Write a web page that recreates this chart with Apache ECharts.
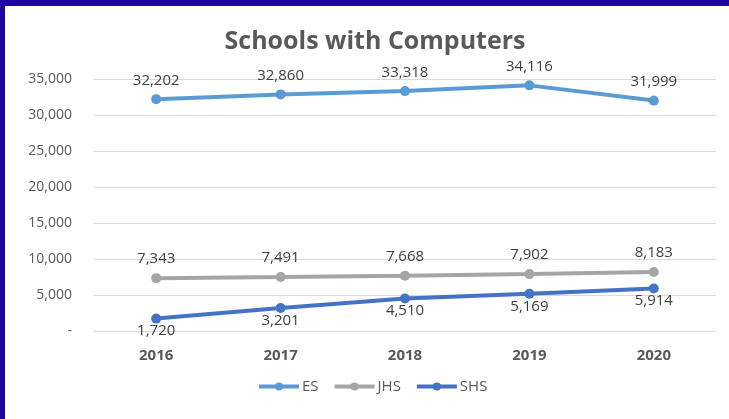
<!DOCTYPE html>
<html>
<head>
<meta charset="utf-8">
<script src="https://cdn.jsdelivr.net/npm/echarts@6/dist/echarts.min.js"></script>
<style>
html,body{margin:0;padding:0;background:#fff;}
#c{position:absolute;left:0;top:0;width:729px;height:419px;}
.bt{position:absolute;left:0;top:0;width:729px;height:6px;background:#1E04A0;}
.bl{position:absolute;left:0;top:0;width:5px;height:419px;background:#1E04A0;}
</style>
</head>
<body>
<div id="c"></div>
<div class="bt"></div>
<div class="bl"></div>
<script>
const categories = ['2016', '2017', '2018', '2019', '2020'];
const esValues = [32202, 32860, 33318, 34116, 31999];
const jhsValues = [7343, 7491, 7668, 7902, 8183];
const shsValues = [1720, 3201, 4510, 5169, 5914];
const seriesNames = ['ES', 'JHS', 'SHS'];
const titleText = 'Schools with Computers';

const FONT = '"Open Sans", "Noto Sans", sans-serif';
const fmt = v => Number(v).toLocaleString('en-US');

function mk(name, data, color, pos, dist) {
  return {
    name, type: 'line', data,
    symbol: 'circle', symbolSize: 10,
    lineStyle: { width: 4, color },
    itemStyle: { color },
    label: {
      show: true, position: pos, distance: dist,
      color: '#404040', fontSize: 15, fontFamily: FONT,
      formatter: p => fmt(p.value)
    }
  };
}

const chart = echarts.init(document.getElementById('c'));
chart.setOption({
  animation: false,
  backgroundColor: '#fff',
  title: {
    text: titleText, left: 370, textAlign: 'center', top: 24,
    textStyle: { fontSize: 25, fontWeight: 'bold', color: '#595959', fontFamily: FONT }
  },
  legend: {
    data: seriesNames, left: 252, top: 374,
    itemWidth: 40, itemHeight: 10, itemGap: 14,
    lineStyle: { width: 4 },
    textStyle: { fontSize: 15, color: '#595959', fontFamily: FONT, padding: [0, 0, 0, -2] }
  },
  grid: { left: 94, right: 13, top: 79, bottom: 88, containLabel: false },
  xAxis: {
    type: 'category', data: categories, boundaryGap: true,
    axisLine: { lineStyle: { color: '#D9D9D9', width: 1 } },
    axisTick: { show: false },
    axisLabel: { fontSize: 15, fontWeight: 'bold', color: '#595959', fontFamily: FONT, margin: 17 }
  },
  yAxis: {
    type: 'value', min: 0, max: 35000, interval: 5000,
    axisLine: { show: false }, axisTick: { show: false },
    splitLine: { lineStyle: { color: '#D9D9D9', width: 1 } },
    axisLabel: {
      fontSize: 14, color: '#595959', fontFamily: FONT, margin: 22,
      formatter: v => v === 0 ? '-' : fmt(v)
    }
  },
  series: [
    mk('ES', esValues, '#5B9BD5', 'top', 6),
    mk('JHS', jhsValues, '#A5A5A5', 'top', 7),
    mk('SHS', shsValues, '#4472C4', 'bottom', 0)
  ]
});
</script>
</body>
</html>
